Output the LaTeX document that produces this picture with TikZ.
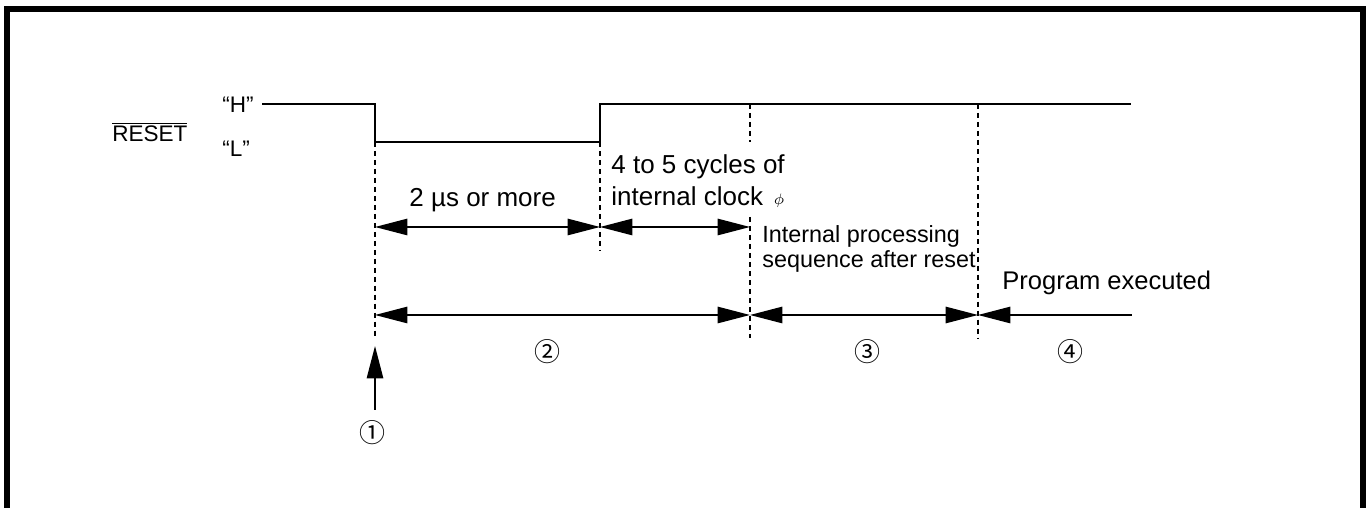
\documentclass[tikz,border=0pt]{standalone}
\usepackage{fontspec}
\setmainfont{Liberation Sans}
\newfontfamily\circfont{Noto Sans CJK JP}
\usetikzlibrary{arrows.meta}

\tikzset{
	sig/.style={line width=0.9pt},
	guide/.style={line width=0.5pt,dash pattern=on 2.3pt off 1.85pt},
	tipA/.tip={Triangle[length=15pt,width=7.6pt]},
	dim/.style={line width=0.7pt,tipA-tipA},
	lbl/.style={inner sep=0pt,anchor=base west},
	num/.style={inner sep=0pt,font=\circfont\fontsize{12}{14}\selectfont}
}

\begin{document}
\begin{tikzpicture}[x=0.01624cm,y=-0.01624cm]
		\useasboundingbox (0,0) rectangle (1371,508);
		% frame
		\draw[line width=2.77pt] (7,530) -- (7,9) -- (1363,9) -- (1363,530);
		% reset waveform
		\coordinate (hs) at (262,104);
		\coordinate (fh) at (375,104);
		\coordinate (fl) at (375,142);
		\coordinate (rl) at (600,142);
		\coordinate (rh) at (600,104);
		\coordinate (he) at (1131,104);
		\coordinate (ch) at (750,104);
		\coordinate (ph) at (978,104);
		\draw[sig] (hs) -- (fh) -- (fl) -- (rl) -- (rh) -- (he);
		% guides
		\coordinate (g1) at (375,337);
		\coordinate (g2) at (600,250);
		\coordinate (g3a) at (750,142);
		\coordinate (g3b) at (750,217);
		\coordinate (g3) at (750,338);
		\coordinate (g4) at (978,338);
		\draw[guide] (fl) -- (g1);
		\draw[guide] (rl) -- (g2);
		\draw[guide] (ch) -- (g3a) (g3b) -- (g3);
		\draw[guide] (ph) -- (g4);
		% first row
		\coordinate (a1) at (375,227);
		\coordinate (a2) at (600,227);
		\coordinate (a3) at (750,227);
		\draw[dim] (a1) -- (a2);
		\draw[dim] (a2) -- (a3);
		% second row
		\coordinate (b1) at (375,315);
		\coordinate (b2) at (750,315);
		\coordinate (b3) at (978,315);
		\coordinate (b4) at (1132,315);
		\draw[dim] (b1) -- (b2);
		\draw[dim] (b2) -- (b3);
		\draw[line width=0.7pt,tipA-] (b3) -- (b4);
		% labels
		\node[lbl,font=\fontsize{10.4}{12}\selectfont] (rst) at (112,142) {$\overline{\mbox{RESET}}$};
		\node[lbl,font=\fontsize{10.4}{12}\selectfont] (hi) at (222,113) {“H”};
		\node[lbl,font=\fontsize{10.4}{12}\selectfont] (lo) at (222,157) {“L”};
		\node[lbl,font=\fontsize{12}{14}\selectfont] (tw) at (409,207) {2 µs or more};
		\node[lbl,font=\fontsize{12}{14}\selectfont] (cy1) at (611,174) {4 to 5 cycles of};
		\node[lbl,font=\fontsize{12}{14}\selectfont] (cy2) at (611,206) {internal clock};
		\node[inner sep=0pt,font=\fontsize{7}{8}\selectfont] (phi) at (779,201) {$\phi$};
		\node[lbl,font=\fontsize{10.8}{12}\selectfont] (ip1) at (762,243) {Internal processing};
		\node[lbl,font=\fontsize{10.8}{12}\selectfont] (ip2) at (762,268) {sequence after reset};
		\node[lbl,font=\fontsize{11.8}{13}\selectfont] (pe) at (1002,290) {Program executed};
		% phases
		\node[num] (n1) at (372,433) {①};
		\node[num] (n2) at (547,352) {②};
		\node[num] (n3) at (867,352) {③};
		\node[num] (n4) at (1070,352) {④};
		\coordinate (up) at (375,410);
		\draw[line width=0.7pt,-tipA] (up) -- (g1 |- 0,346);
	\end{tikzpicture}
\end{document}
